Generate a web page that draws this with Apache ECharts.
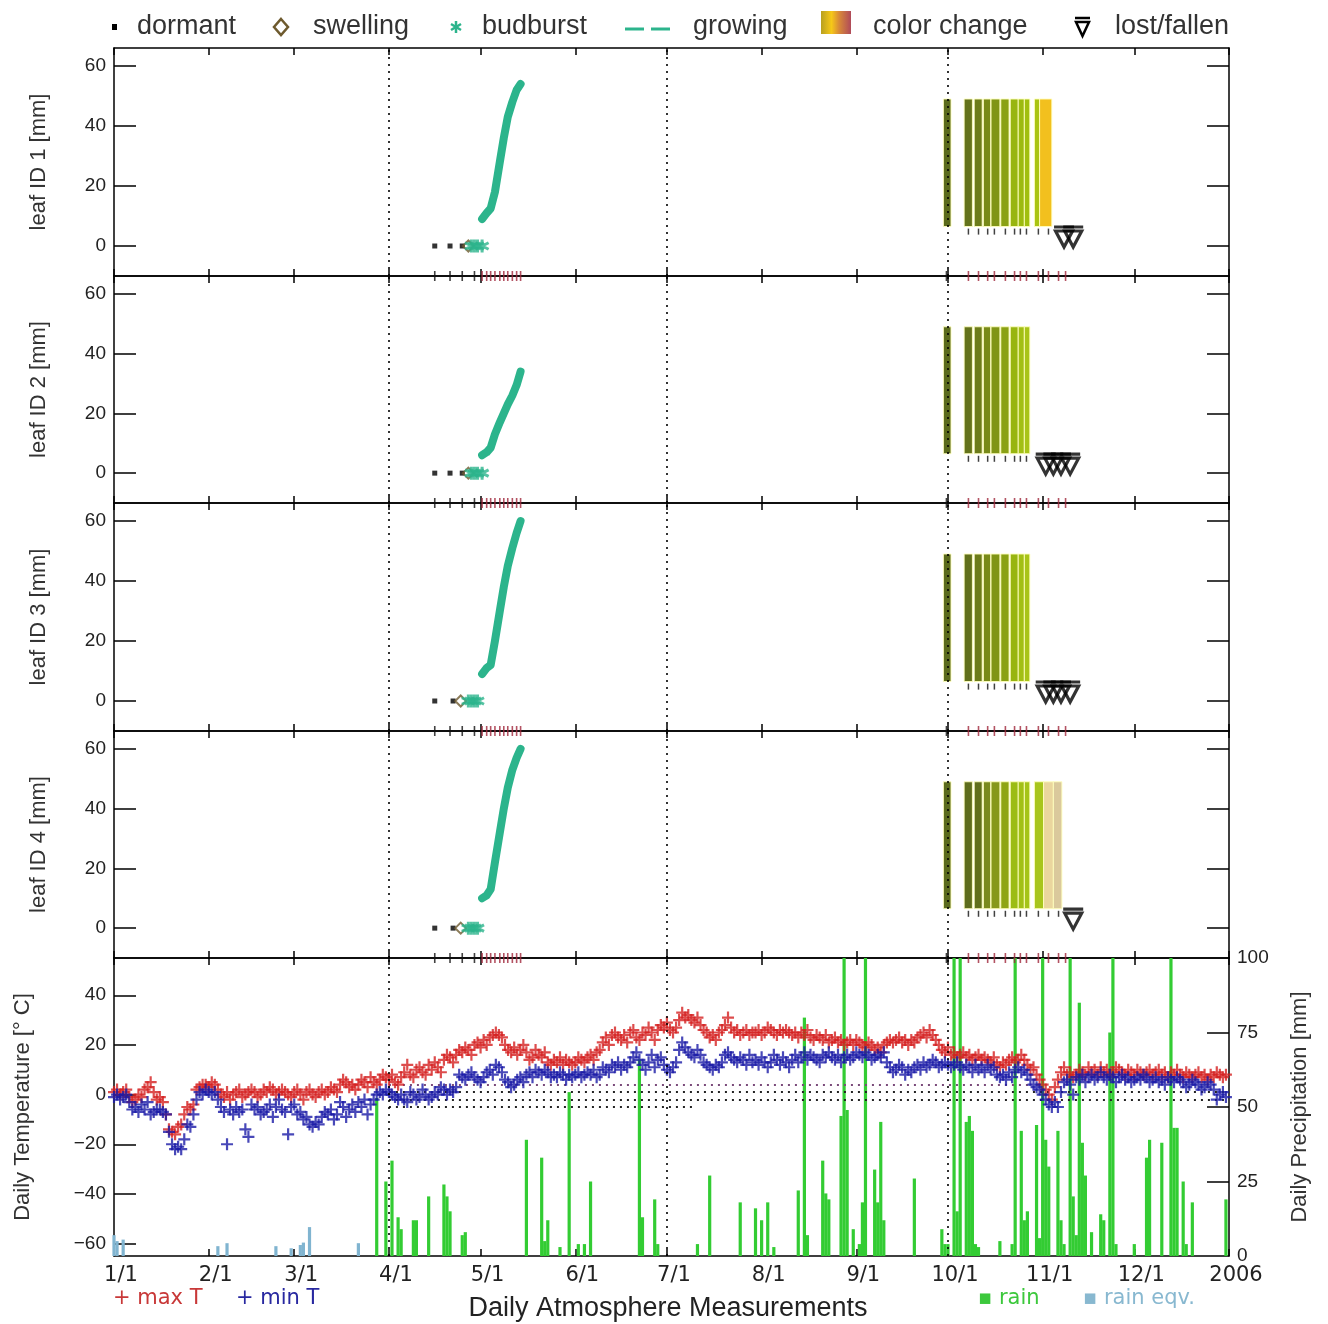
<!DOCTYPE html>
<html><head><meta charset="utf-8">
<script src="https://cdn.jsdelivr.net/npm/echarts@6/dist/echarts.min.js"></script>
<style>html,body{margin:0;padding:0;background:#fff}#c{width:1328px;height:1324px}</style>
</head><body><div id="c"></div>
<script>
// ---------- axis ticks / labels ----------
const monthDays = [0,31,59,90,120,151,181,212,243,273,304,334,365];
const monthLabels = ['1/1','2/1','3/1','4/1','5/1','6/1','7/1','8/1','9/1','10/1','11/1','12/1','2006'];
const quarterDays = [90,181,273];
const leafTicks = [0,20,40,60];
const tempTicks = [-60,-40,-20,0,20,40];
const precipTicks = [0,25,50,75,100];
const leafNames = ['leaf ID 1 [mm]','leaf ID 2 [mm]','leaf ID 3 [mm]','leaf ID 4 [mm]'];

// ---------- phenology (day of year) ----------
const dormantDays = [[105,110,114],[105,110,114],[105,111],[105,111]];
const swellingDays = [[116],[116],[113.5],[113.5]];
const budburstDays = [[117,118,119,120.5],[117,118,119,120.5],[116,117,118,119],[116,117,118,119]];
const growDays = [120.5,122,123.3,124.7,126.3,127.6,128.9,130.4,131.8,133.1];
const growLeaf1 = [9,11,12.5,18,28,36,43,48,52,54];
const growLeaf2 = [6,7,8.5,13,17,20,23,26,29.5,34];
const growLeaf3 = [9,11,12,20,30,38,45,51,56,60];
const growLeaf4 = [10,11,13,22,32,40,47,53,57,60];
const ccRange = [6.5, 49];
const ccStart1 = [271.5,278.3,281.6,284.6,287.1,290.3,293.4,296,298,301.3,303];
const ccEnd1   = [274,281,284.2,287,290,293,296,298,299.8,303,307];
const ccColor1 = ['#5b6b1c','#64731b','#6c7c1a','#788a18','#809516','#8aa114','#98b510','#9cba0f','#a0bf0e','#a9c412','#f2c01e'];
const ccStart2 = [271.5,278.3,281.6,284.6,287.1,290.3,293.4,296,298];
const ccEnd2   = [274,281,284.2,287,290,293,296,298,299.8];
const ccColor2 = ['#5b6b1c','#64731b','#6c7c1a','#788a18','#809516','#8aa114','#98b510','#a2bf14','#a8c418'];
const ccColor3 = ['#5b6b1c','#61701b','#6c7c1a','#788a18','#809516','#8aa114','#98b510','#a2bf14','#a8c418'];
const ccStart4 = [271.5,278.3,281.6,284.6,287.1,290.3,293.4,296,298,301.3,304.3,307.5];
const ccEnd4   = [274,281,284.2,287,290,293,296,298,299.8,304.3,307.5,310.3];
const ccColor4 = ['#5b6b1c','#5e6d1c','#61701b','#7a8a1e','#86981a','#8fa514','#9cbc14','#a2c016','#a5c418','#a8c51c','#ead69e','#dac99c'];
const lostDays = [[311,314],[305,307.5,310,313],[305,307.5,310,313],[314]];
const lostLevel = 3;
const obsSpring = [105,110,114,118];
const obsAutumn = [272.5,279.7,283,286,288.2,291.8,294.8,296.7,298.7,302.6,305.9,309.2,311.5];

// ---------- daily atmosphere (day 0 = 1/1) ----------
const maxT = [1,2,0,1,2, -1,-3,-2,0,-1, 2,3,5,1,-2, -1,-3,-8,-14,-15, -16,-13,-12,-8,-5, -6,-4,2,3,4, 4,3,5,4,2, 0,-1,1,-2,0, 1,2,-1,0,1, 2,1,-1,0,2, 1,3,2,0,1, 2,1,0,-1,1, 2,0,-2,1,2, 0,-1,1,2,0, 1,3,2,1,4, 6,5,3,4,2, 4,6,5,3,7, 5,4,6,8,7, 6,8,5,4,7, 9,12,8,7,10, 11,9,8,12,10, 13,11,9,14,16, 15,13,16,18,17, 19,18,16,20,21, 19,22,20,23,24, 25,24,23,20,18, 17,19,16,18,20, 17,14,15,18,16, 15,17,13,12,14, 13,15,12,14,13, 12,13,15,14,13, 15,16,14,17,18, 21,23,20,24,25, 23,22,24,21,25, 26,23,22,25,24, 27,25,22,26,28, 27,29,26,25,27, 30,33,31,32,30, 29,31,28,26,25, 23,24,22,25,26, 28,31,27,25,26, 24,25,26,24,25, 25,26,24,25,27, 26,25,24,26,25, 26,25,24,25,23, 25,24,26,23,22, 24,23,22,24,21, 22,23,21,22,20, 21,22,20,22,21, 20,19,21,20,18, 19,17,20,21,22, 21,22,23,21,22, 20,22,21,23,24, 25,23,26,24,22, 20,18,17,19,16, 17,15,16,17,15, 16,14,15,16,14, 15,14,13,15,12, 11,13,12,14,15, 13,14,16,14,12, 10,11,8,6,4, 2,0,-2,3,6, 9,11,8,9,7, 8,10,9,8,11, 9,10,8,11,9, 10,8,9,11,10, 9,8,10,9,8, 10,9,8,9,10, 8,9,10,8,9, 7,9,8,10,8, 7,9,8,7,8, 9,7,8,6,8, 7,9,8,7,8];
const minT = [-1,0,-2,-1,0, -3,-6,-5,-7,-4, -6,-3,-8,-7,-6, -6,-7,-8,-15,-20, -22,-21,-22,-18,-12, -13,-8,-2,1,0, 2,1,0,1,-2, -5,-7,-20,-6,-8, -5,-7,-6,-14,-17, -4,-6,-5,-8,-7, -6,-4,-9,-5,-2, -6,-7,-16,-5,-4, -8,-7,-10,-9,-12, -13,-11,-12,-9,-7, -8,-6,-10,-8,-3, -5,-9,-6,-4,-7, -3,-5,-2,-8,-4, -2,0,1,0,2, 1,0,-1,-2,0, -2,-3,1,0,-2, -1,2,0,-2,-1, 1,0,3,2,0, 2,1,3,8,7, 6,8,9,7,6, 5,7,9,10,8, 12,11,9,6,5, 3,4,6,7,5, 8,9,7,10,9, 8,10,9,7,8, 7,9,8,6,8, 7,8,9,7,8, 9,8,10,7,8, 11,10,9,12,11, 13,10,12,11,13, 15,17,14,12,10, 13,16,11,14,15, 12,10,9,11,13, 18,21,19,17,16, 15,18,16,13,12, 11,10,12,11,13, 16,17,15,14,13, 15,14,12,16,13, 14,12,15,13,11, 13,16,14,12,15, 13,11,14,16,13, 15,17,14,16,15, 14,13,16,15,17, 15,14,16,13,15, 16,14,15,17,16, 15,17,16,14,15, 16,15,17,13,11, 9,10,12,11,8, 10,9,11,12,10, 13,11,12,14,13, 11,12,13,12,11, 12,13,11,10,12, 11,9,12,10,11, 9,12,10,11,8, 7,8,6,9,7, 10,11,9,10,8, 6,4,3,2,0, -2,-4,-5,-3,-5, 1,5,6,4,0, 7,6,8,5,7, 8,6,7,9,7, 6,8,7,5,7, 8,6,7,5,6, 7,6,8,7,5, 6,7,5,6,4, 7,6,5,7,6, 5,3,4,6,5, 4,2,3,5,4, 2,-2,0,1,-1];
const rainDays = [86,89,91,93,94,98,99,103,108,109,110,114,115,135,140,141,142,146,149,152,154,156,172,173,177,178,191,195,205,210,212,214,216,224,226,227,232,233,234,238,239,240,242,244,245,246,249,250,251,252,262,271,272,273,275,276,277,279,280,281,282,283,290,294,295,297,298,299,302,303,304,305,306,309,310,311,313,314,315,316,317,318,320,323,324,326,327,328,334,338,339,343,346,347,348,350,351,353,364];
const rainMm = [53,25,32,13,9,12,12,20,24,20,15,7,8,39,33,5,12,3,55,4,4,25,66,13,19,4,4,27,18,16,12,18,3,22,80,7,32,21,19,47,130,49,9,4,18,130,29,18,45,12,26,9,4,4,130,15,130,45,47,42,4,3,5,4,130,42,12,15,44,6,130,39,30,42,12,4,130,20,7,85,38,27,8,14,12,75,130,4,4,33,39,38,130,43,43,25,4,18,19];
const eqvDays = [0,1,3,34,37,53,58,61,62,64,80];
const eqvMm = [7,5,5.5,3.3,4.3,3.3,2.6,3.7,4.5,9.7,4.3];
const soilLines = [[90,300,4,'#7a4a7a'],[90,365,1,'#222'],[90,365,-2,'#222'],[90,190,-5,'#222']];

// ---------- styling ----------
const FONT = 'Liberation Sans';
const TEAL = '#2cb48c';
const grids = [
  {left:114, width:1115, top:48, height:228},
  {left:114, width:1115, top:276, height:227},
  {left:114, width:1115, top:503, height:228},
  {left:114, width:1115, top:731, height:227},
  {left:114, width:1115, top:958, height:298}
];
const minus = v => String(v).replace('-', '\u2212');
const axLine = {show:true, onZero:false, lineStyle:{color:'#000', width:1.5}};

const xAxes = [], yAxes = [], series = [];
for (let g = 0; g < 5; g++) {
  ['bottom','top'].forEach(pos => {
    const show = g === 4 && pos === 'bottom';
    xAxes.push({type:'value', gridIndex:g, position:pos, min:0, max:365,
      axisLine:axLine,
      axisTick:{show:true, inside:true, length:7, customValues:monthDays, lineStyle:{color:'#000', width:1.5}},
      axisLabel:{show:show, customValues:monthDays, formatter:v => monthLabels[monthDays.indexOf(v)],
        fontFamily:'DejaVu Sans', fontSize:21, color:'#222', margin:9, padding:[0,0,0,14]},
      splitLine:{show:false}});
  });
}
for (let g = 0; g < 4; g++) {
  yAxes.push({type:'value', gridIndex:g, position:'left', min:-10, max:66,
    name:leafNames[g], nameLocation:'middle', nameGap:64, nameRotate:90,
    nameTextStyle:{fontFamily:FONT, fontSize:22, color:'#333'},
    axisLine:axLine,
    axisTick:{show:true, inside:true, length:22, customValues:leafTicks, lineStyle:{color:'#000', width:1.5}},
    axisLabel:{customValues:leafTicks, fontFamily:FONT, fontSize:19, color:'#222', margin:8},
    splitLine:{show:false}});
  yAxes.push({type:'value', gridIndex:g, position:'right', min:-10, max:66,
    axisLine:axLine,
    axisTick:{show:true, inside:true, length:22, customValues:leafTicks, lineStyle:{color:'#000', width:1.5}},
    axisLabel:{show:false}, splitLine:{show:false}});
}
yAxes.push({type:'value', gridIndex:4, position:'left', min:-65, max:55,
  name:'Daily Temperature [\u00b0 C]', nameLocation:'middle', nameGap:80, nameRotate:90,
  nameTextStyle:{fontFamily:FONT, fontSize:22, color:'#333'},
  axisLine:axLine,
  axisTick:{show:true, inside:true, length:22, customValues:tempTicks, lineStyle:{color:'#000', width:1.5}},
  axisLabel:{customValues:tempTicks, formatter:minus, fontFamily:FONT, fontSize:19, color:'#222', margin:8},
  splitLine:{show:false}});
yAxes.push({type:'value', gridIndex:4, position:'right', min:0, max:100,
  name:'Daily Precipitation [mm]', nameLocation:'middle', nameGap:60, nameRotate:90,
  nameTextStyle:{fontFamily:FONT, fontSize:22, color:'#333'},
  axisLine:axLine,
  axisTick:{show:true, inside:true, length:22, customValues:[25,50,75], lineStyle:{color:'#000', width:1.5}},
  axisLabel:{customValues:precipTicks, fontFamily:FONT, fontSize:19, color:'#222', margin:8, padding:[10,0,0,0]},
  splitLine:{show:false}});

const quarterMark = {silent:true, symbol:['none','none'], label:{show:false},
  lineStyle:{color:'#000', type:[2,5], width:1.6}, data:quarterDays.map(d => ({xAxis:d})), z:10};

const growAll = [growLeaf1, growLeaf2, growLeaf3, growLeaf4];
const ccAll = [[ccStart1,ccEnd1,ccColor1],[ccStart2,ccEnd2,ccColor2],[ccStart2,ccEnd2,ccColor3],[ccStart4,ccEnd4,ccColor4]];
const plusPath = 'path://M5,0L5,10M0,5L10,5';
const starPath = 'path://M6,0L6,12M0.8,3L11.2,9M0.8,9L11.2,3';
const lostPath = 'path://M0,0L20,0M1.5,4L18.5,4L10,20Z';

for (let g = 0; g < 4; g++) {
  const xi = 2*g, yi = 2*g;
  const [cs, ce, cc] = ccAll[g];
  const lastEnd = ce[ce.length-1];
  series.push({type:'custom', xAxisIndex:xi, yAxisIndex:yi, z:3, silent:true,
    encode:{x:[0,1], y:[2,3]},
    renderItem:(params, api) => {
      const p0 = api.coord([api.value(0), api.value(3)]);
      const p1 = api.coord([api.value(1), api.value(2)]);
      return {type:'rect', shape:{x:p0[0], y:p0[1], width:p1[0]-p0[0], height:p1[1]-p0[1]},
        style:{fill:api.visual('color'), stroke:'rgba(255,255,190,0.9)', lineWidth:1}};
    },
    data: cs.map((s,i) => ({value:[s, ce[i], ccRange[0], ccRange[1]], itemStyle:{color:cc[i]}}))
  });
  series.push({type:'scatter', xAxisIndex:xi, yAxisIndex:yi, z:4, silent:true, symbol:'rect', symbolSize:[1.5,6],
    itemStyle:{color:'#111'},
    data: obsAutumn.filter(d => d > 275 && d < lastEnd).map(d => [d, 4.8])});
  series.push({type:'scatter', xAxisIndex:xi, yAxisIndex:yi, z:6, silent:true, clip:false, symbol:'rect', symbolSize:[1.6,10],
    data: obsSpring.map(d => ({value:[d,-10], itemStyle:{color:'#111'}}))
      .concat(growDays.map(d => ({value:[d,-10], itemStyle:{color:'#a0283c'}})))
      .concat(obsAutumn.map((d,i) => ({value:[d,-10], itemStyle:{color: i === 0 ? '#111' : '#a0283c'}})))});
  series.push({type:'line', xAxisIndex:xi, yAxisIndex:yi, z:5, silent:true, symbol:'none',
    lineStyle:{color:TEAL, width:8, cap:'round', join:'round'},
    data: growDays.map((d,i) => [d, growAll[g][i]])});
  series.push({type:'scatter', xAxisIndex:xi, yAxisIndex:yi, z:5, silent:true, symbol:'rect', symbolSize:5,
    itemStyle:{color:'#000'}, data: dormantDays[g].map(d => [d, 0]), markLine:quarterMark});
  series.push({type:'scatter', xAxisIndex:xi, yAxisIndex:yi, z:5, silent:true, symbol:'diamond', symbolSize:11,
    itemStyle:{color:'rgba(0,0,0,0)', borderColor:'#6e5a2e', borderWidth:2}, data: swellingDays[g].map(d => [d, 0])});
  series.push({type:'scatter', xAxisIndex:xi, yAxisIndex:yi, z:6, silent:true, symbol:starPath, symbolSize:13,
    itemStyle:{color:'rgba(0,0,0,0)', borderColor:TEAL, borderWidth:3}, data: budburstDays[g].map(d => [d, 0])});
  series.push({type:'scatter', xAxisIndex:xi, yAxisIndex:yi, z:6, silent:true, symbol:lostPath, symbolSize:[20,20],
    itemStyle:{color:'rgba(0,0,0,0)', borderColor:'#000', borderWidth:3.2}, data: lostDays[g].map(d => [d, lostLevel])});
}

// bottom panel
series.push({type:'bar', xAxisIndex:8, yAxisIndex:9, z:2, silent:true, barWidth:3.2, barGap:'-100%',
  itemStyle:{color:'#33cc33'}, data: rainDays.map((d,i) => [d, rainMm[i]])});
series.push({type:'bar', xAxisIndex:8, yAxisIndex:9, z:2, silent:true, barWidth:3.2, barGap:'-100%',
  itemStyle:{color:'#80b4d0'}, data: eqvDays.map((d,i) => [d, eqvMm[i]])});
series.push({type:'scatter', xAxisIndex:8, yAxisIndex:8, z:4, silent:true, symbol:plusPath, symbolSize:12,
  itemStyle:{color:'rgba(0,0,0,0)', borderColor:'#d42020', borderWidth:2.2},
  data: maxT.map((v,i) => [i, v]), markLine:quarterMark});
series.push({type:'scatter', xAxisIndex:8, yAxisIndex:8, z:5, silent:true, symbol:plusPath, symbolSize:12,
  itemStyle:{color:'rgba(0,0,0,0)', borderColor:'#1a1aa6', borderWidth:2.2},
  data: minT.map((v,i) => [i, v]),
  markLine:{silent:true, symbol:['none','none'], label:{show:false}, z:3,
    data: soilLines.map(s => [{coord:[s[0], s[2]], lineStyle:{color:s[3], type:[2,5], width:2}}, {coord:[s[1], s[2]]}])}});

// legend and captions
const T = (x, y, text, size, color, extra) => Object.assign({type:'text', x:x, y:y,
  style:Object.assign({text:text, fontFamily:FONT, fontSize:size, fill:color, verticalAlign:'middle'}, extra || {})});
const graphic = [
  {type:'rect', shape:{x:112, y:24, width:5, height:6}, style:{fill:'#000'}},
  T(137, 27, 'dormant', 27, '#333'),
  {type:'polygon', shape:{points:[[281,19],[288,27],[281,35],[274,27]]}, style:{fill:'none', stroke:'#6e5a2e', lineWidth:2.5}},
  T(313, 27, 'swelling', 27, '#333'),
  {type:'line', shape:{x1:456, y1:21, x2:456, y2:33}, style:{stroke:TEAL, lineWidth:2.5}},
  {type:'line', shape:{x1:451, y1:24, x2:461, y2:30}, style:{stroke:TEAL, lineWidth:2.5}},
  {type:'line', shape:{x1:451, y1:30, x2:461, y2:24}, style:{stroke:TEAL, lineWidth:2.5}},
  T(482, 27, 'budburst', 27, '#333'),
  {type:'line', shape:{x1:625, y1:29, x2:644, y2:29}, style:{stroke:TEAL, lineWidth:3}},
  {type:'line', shape:{x1:651, y1:29, x2:670, y2:29}, style:{stroke:TEAL, lineWidth:3}},
  T(693, 27, 'growing', 27, '#333'),
  {type:'rect', shape:{x:821, y:11, width:30, height:23},
    style:{fill:new echarts.graphic.LinearGradient(0,0,1,0,[{offset:0,color:'#b8a020'},{offset:0.35,color:'#f6c818'},{offset:0.6,color:'#d88a38'},{offset:1,color:'#b04a5a'}])}},
  T(873, 27, 'color change', 27, '#333'),
  {type:'line', shape:{x1:1075, y1:18, x2:1090, y2:18}, style:{stroke:'#000', lineWidth:2.5}},
  {type:'polygon', shape:{points:[[1076,22],[1089,22],[1082.5,36]]}, style:{fill:'none', stroke:'#000', lineWidth:2.5}},
  T(1115, 27, 'lost/fallen', 27, '#333'),
  T(113, 1299, '+ max T', 21, '#c83838', {fontFamily:'DejaVu Sans'}),
  T(236, 1299, '+ min T', 21, '#2828a0', {fontFamily:'DejaVu Sans'}),
  T(668, 1309, 'Daily Atmosphere Measurements', 27, '#222', {align:'center'}),
  T(978, 1299, '\u25aa rain', 21, '#3cc83c', {fontFamily:'DejaVu Sans'}),
  T(1083, 1299, '\u25aa rain eqv.', 21, '#88b8d0', {fontFamily:'DejaVu Sans'})
];

const chart = echarts.init(document.getElementById('c'), null, {renderer:'canvas', width:1328, height:1324});
chart.setOption({animation:false, backgroundColor:'#fff', grid:grids, xAxis:xAxes, yAxis:yAxes, series:series, graphic:graphic});
</script>
</body></html>
